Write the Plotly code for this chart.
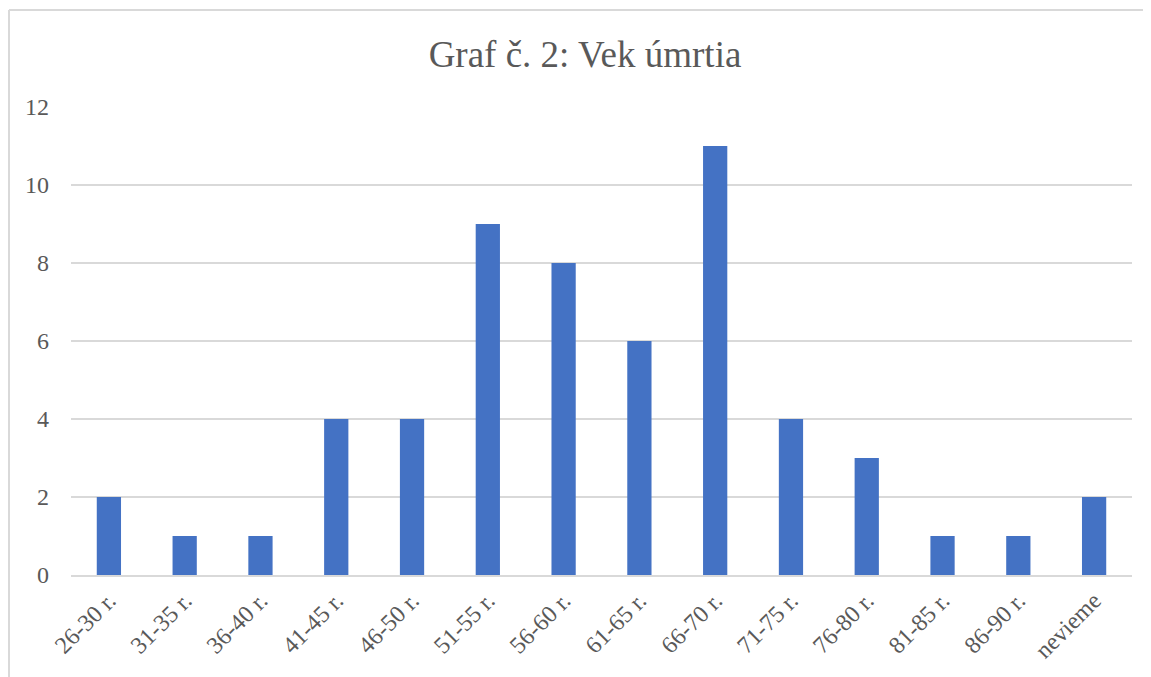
import plotly.graph_objects as go

categories = ["26-30 r.", "31-35 r.", "36-40 r.", "41-45 r.", "46-50 r.", "51-55 r.", "56-60 r.",
              "61-65 r.", "66-70 r.", "71-75 r.", "76-80 r.", "81-85 r.", "86-90 r.", "nevieme"]
values = [2, 1, 1, 4, 4, 9, 8, 6, 11, 4, 3, 1, 1, 2]
y_ticks = [0, 2, 4, 6, 8, 10, 12]

font_family = "Liberation Serif"
text_color = "#595959"

fig = go.Figure(go.Bar(x=categories, y=values, marker=dict(color="#4472C4", line=dict(width=0))))

# page body has an 8px margin, so the figure is offset by 8px
W, H = 1143, 669
L, R, T, B = 63, 19, 99, 102
pw, ph = W - L - R, H - T - B

fig.update_layout(
    width=W, height=H,
    margin=dict(l=L, r=R, t=T, b=B),
    paper_bgcolor="white", plot_bgcolor="white",
    bargap=0.68,
    showlegend=False,
    title=dict(text="Graf č. 2: Vek úmrtia", x=577 / W, xanchor="center", xref="container",
               y=1 - 46 / H, yanchor="middle", yref="container",
               font=dict(family=font_family, size=37, color=text_color)),
    font=dict(family=font_family, color=text_color),
    xaxis=dict(tickangle=-45, tickfont=dict(family=font_family, size=24, color=text_color), showgrid=False,
               showline=True, linecolor="#d9d9d9", linewidth=2, ticks=""),
    yaxis=dict(range=[0, 12], tickvals=y_ticks, tickfont=dict(family=font_family, size=24, color=text_color),
               showgrid=True, gridcolor="#d9d9d9", gridwidth=2, zeroline=False,
               showline=False, ticks="", ticklabelstandoff=21),
    shapes=[
        dict(type="line", xref="paper", yref="paper",
             x0=(1 - L) / pw, x1=(1 - L) / pw, y0=1 + (T - 2) / ph, y1=-B / ph - 0.02,
             line=dict(color="#d9d9d9", width=2)),
        dict(type="line", xref="paper", yref="paper",
             x0=(1 - L) / pw, x1=1 + R / pw + 0.02, y0=1 + (T - 2) / ph, y1=1 + (T - 2) / ph,
             line=dict(color="#d9d9d9", width=2)),
    ],
)

fig.write_html("out.html")
